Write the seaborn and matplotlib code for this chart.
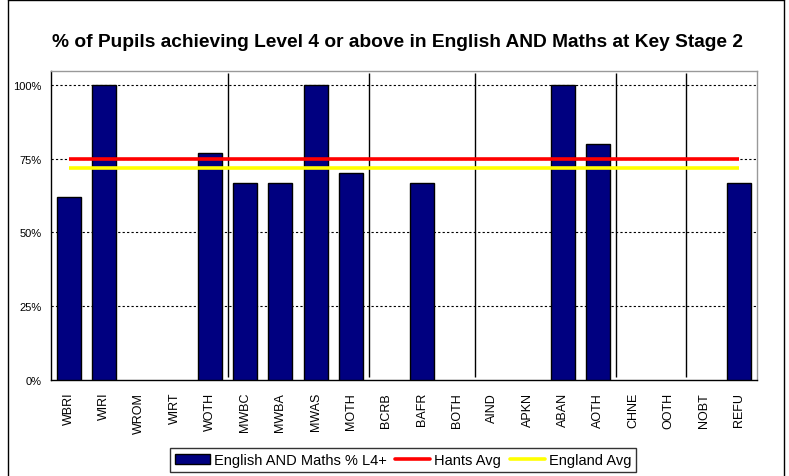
import numpy as np
import pandas as pd
import matplotlib
matplotlib.use("Agg")
import matplotlib.pyplot as plt
import seaborn as sns
from matplotlib.lines import Line2D
from matplotlib.patches import Patch
from matplotlib.ticker import PercentFormatter

# ethnic group codes and % achieving L4+ in English AND Maths (NaN = no pupils)
categories = ['WBRI', 'WIRI', 'WROM', 'WIRT', 'WOTH', 'MWBC', 'MWBA', 'MWAS', 'MOTH',
              'BCRB', 'BAFR', 'BOTH', 'AIND', 'APKN', 'ABAN', 'AOTH', 'CHNE', 'OOTH',
              'NOBT', 'REFU']
pct_l4 = [0.62, 1.00, np.nan, np.nan, 0.77, 0.667, 0.667, 1.00, 0.70,
          np.nan, 0.667, np.nan, np.nan, np.nan, 1.00, 0.80, np.nan, np.nan,
          np.nan, 0.667]
hants_avg = [0.75] * len(categories)
england_avg = [0.72] * len(categories)
# number of codes in each ethnic group block (White, Mixed, Black, Asian, Chinese/Other, Not obtained)
group_sizes = [5, 4, 3, 4, 2, 2]

sns.set_style("white")
plt.rcParams['font.family'] = ['Liberation Sans', 'DejaVu Sans']
plt.rcParams['text.color'] = 'black'

df = pd.DataFrame({'code': categories, 'pct': pct_l4})

fig = plt.figure(figsize=(7.89, 4.77), dpi=100)
ax = fig.add_axes([51 / 789, 1 - 381 / 477, 706 / 789, 309 / 477])

sns.barplot(data=df, x='code', y='pct', order=categories, color='#000080',
            edgecolor='black', linewidth=1, width=0.68, saturation=1, ax=ax, zorder=3)

x = np.arange(len(categories))
ax.plot(x, hants_avg, color='#ff0000', lw=2.6, zorder=4, solid_capstyle='butt')
ax.plot(x, england_avg, color='#ffff00', lw=2.6, zorder=4, solid_capstyle='butt')

# group separators
bounds = np.cumsum(group_sizes)[:-1] - 0.5
ax.vlines(bounds, 0.01, 1.04, color='black', lw=1, zorder=2)

ax.set_xlim(-0.5, len(categories) - 0.5)
ax.set_ylim(0, 1.047)
ax.set_yticks([0, 0.25, 0.5, 0.75, 1.0])
ax.yaxis.set_major_formatter(PercentFormatter(1.0, decimals=0))
for yv in [0.25, 0.5, 0.75, 1.0]:
    ax.axhline(yv, color='black', lw=0.8, ls=(0, (2, 2)), zorder=1)

ax.set_xticks(x)
ax.set_xticklabels(categories, rotation=90, fontsize=9)
ax.set_xticks(np.arange(len(categories) + 1) - 0.5, minor=True)
ax.tick_params(axis='x', which='major', length=0, pad=8.5, labelcolor='black')
ax.tick_params(axis='x', which='minor', length=4, width=1, color='black', direction='out')
ax.tick_params(axis='y', length=4, width=1, color='black', direction='out', labelsize=8,
               pad=3, labelcolor='black')
ax.set_xlabel('')
ax.set_ylabel('')

for side in ['left', 'bottom']:
    ax.spines[side].set_color('black')
    ax.spines[side].set_linewidth(1)
for side in ['top', 'right']:
    ax.spines[side].set_visible(True)
    ax.spines[side].set_color('#999999')
    ax.spines[side].set_linewidth(1)

fig.text(0.504, 1 - 47 / 477,
         '% of Pupils achieving Level 4 or above in English AND Maths at Key Stage 2',
         ha='center', va='baseline', fontsize=13.8, fontweight='bold', color='black')

# outer chart border
fig.add_artist(Line2D([8 / 789, 8 / 789], [0, 1], color='black', lw=1))
fig.add_artist(Line2D([784 / 789, 784 / 789], [0, 1], color='black', lw=1))
fig.add_artist(Line2D([8 / 789, 784 / 789], [1 - 1 / 477, 1 - 1 / 477], color='black', lw=1))

handles = [Patch(facecolor='#000080', edgecolor='black', lw=1),
           Line2D([], [], color='#ff0000', lw=2.6),
           Line2D([], [], color='#ffff00', lw=2.6)]
labels = ['English AND Maths % L4+', 'Hants Avg', 'England Avg']
leg = fig.legend(handles, labels, loc='upper center', bbox_to_anchor=(403 / 789, 1 - 449 / 477),
                 ncol=3, frameon=True, fancybox=False, fontsize=10.5, handlelength=2.4,
                 handletextpad=0.27, columnspacing=0.6, borderpad=0.35, borderaxespad=0)
leg.get_frame().set_edgecolor('black')
leg.get_frame().set_linewidth(1)

fig.savefig('out.png', dpi=100)
